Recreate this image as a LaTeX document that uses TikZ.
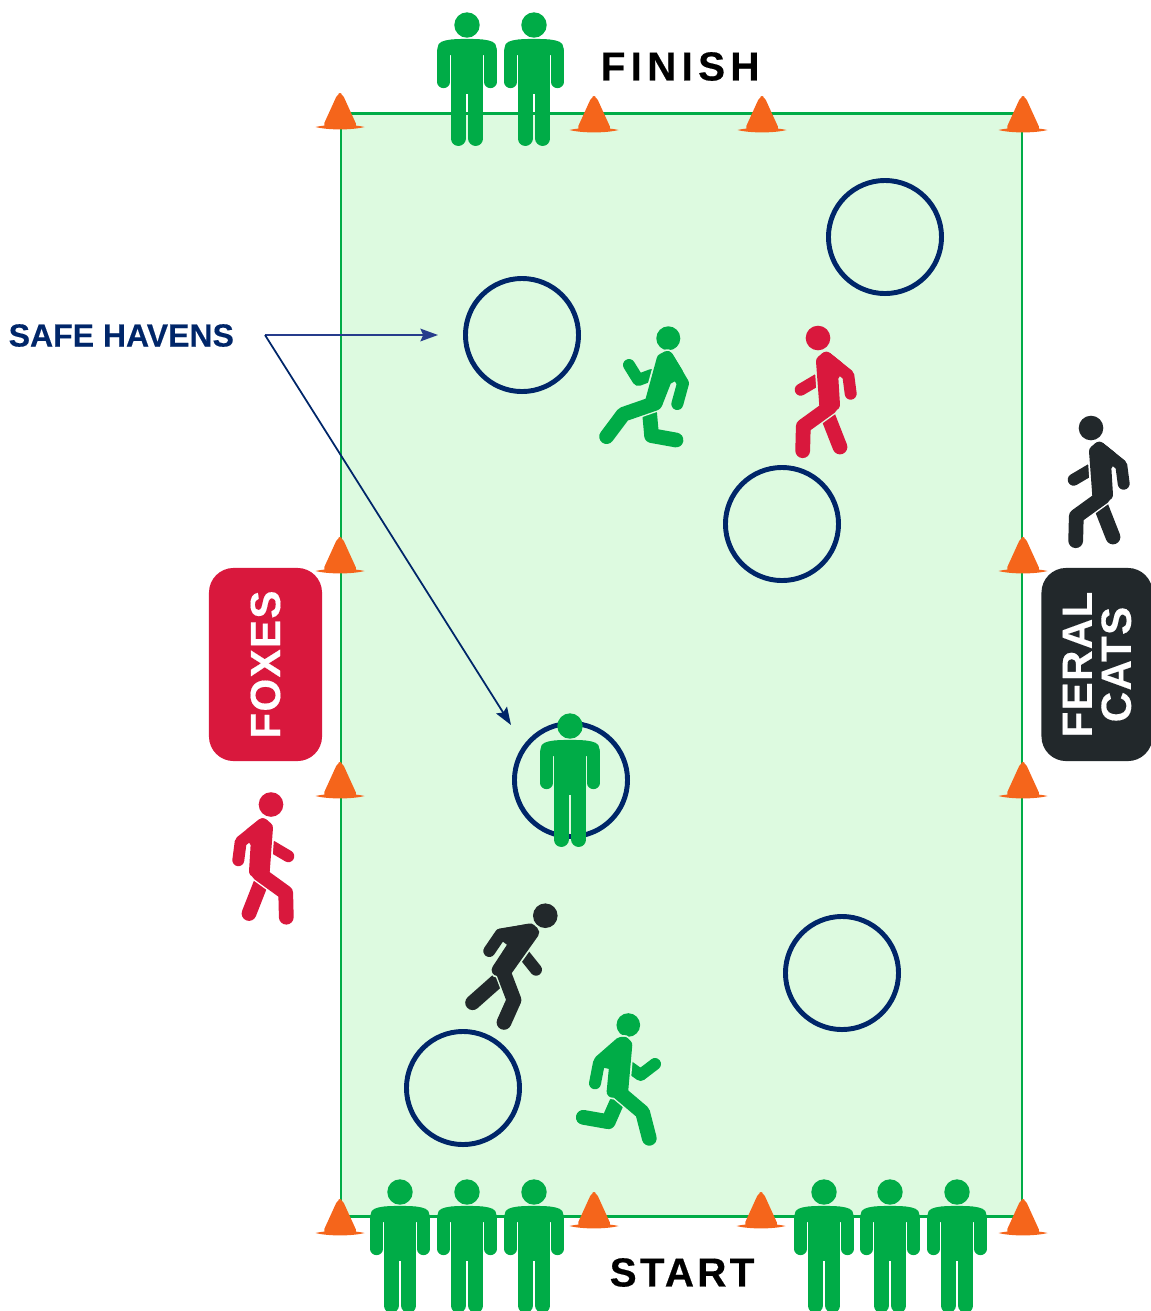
\documentclass[tikz,border=0pt]{standalone}
\usepackage{fontspec}
\usepackage{xcolor}
\usetikzlibrary{arrows.meta,positioning}
\setmainfont{Liberation Sans}
\definecolor{tagGreen}{RGB}{0,172,71}
\definecolor{tagLawn}{RGB}{221,250,224}
\definecolor{tagRed}{RGB}{217,24,61}
\definecolor{tagInk}{RGB}{34,40,43}
\definecolor{tagNavy}{RGB}{0,38,105}
\definecolor{tagBlue}{RGB}{38,60,140}
\definecolor{tagCone}{RGB}{245,101,27}
\tikzset{
  haven/.style={circle,draw=tagNavy,line width=1.4pt,minimum size=1.13cm,inner sep=0pt},
  sidetag/.style={rounded corners=7pt,minimum width=1.93cm,inner sep=0pt,rotate=90,text=white,align=center,
    font=\fontsize{12}{11}\selectfont\bfseries\addfontfeatures{LetterSpace=3,FakeBold=0.3}},
  gamelabel/.style={inner sep=0pt,font=\fontsize{11.5}{14}\selectfont\bfseries\addfontfeatures{FakeBold=0.4}},
  havenarrow/.style={draw=tagNavy,line width=0.5pt,-{Stealth[length=5pt,width=3.6pt,inset=0.8pt]}},
  armline/.style={line width=3.4pt,line cap=round,line join=round},
  legline/.style={line width=4.2pt,line cap=round,line join=round},
  torsoline/.style={line width=3.4pt,line join=round}
}
% colour, gap colour, back arm, back leg, torso, front leg, front arm
\newcommand{\limbfig}[7]{%
  \draw[armline,#1] #3;
  \draw[legline,#1] #4;
  \filldraw[#2,line width=4.4pt,line join=round] #5;
  \draw[#2,line width=5pt,line cap=round,line join=round] #6;
  \filldraw[torsoline,#1] #5;
  \draw[legline,#1] #6;
  \draw[armline,#1] #7;
}
\newcommand{\walkerfig}[2]{%
  \fill[#1] (0,0) circle[radius=0.123cm];
  \limbfig{#1}{#2}{(2,40.3)--(-17.3,51.7)}{(8,73.3)--(22,109)}%
    {(4,23.3)--(8.3,19.7)--(20.3,29.3)--(14.3,39)--(16,66.7)--(7.3,67.7)--cycle}%
    {(12,69)--(-14.7,88.3)--(-15.3,112.7)}{(8.3,19.7)--(30.3,37.3)--(32.7,55.7)}
}
\newcommand{\standingfig}{%
  \fill[tagGreen] (0,0) circle[radius=0.127cm];
  \fill[tagGreen] (-29.5,30) -- (-29.5,23) .. controls (-29.5,16.5) and (-23,15.5) .. (-16,14.5)
    .. controls (-8,13.7) and (8,13.7) .. (16,14.5) .. controls (23,15.5) and (29.5,16.5) .. (29.5,23)
    -- (29.5,30) -- cycle;
  \fill[tagGreen] (-16.4,26) rectangle (16.4,69);
  \draw[armline,line width=3.5pt,tagGreen] (-23.35,26) -- (-23.35,57);
  \draw[armline,line width=3.5pt,tagGreen] (23.35,26) -- (23.35,57);
  \draw[legline,line width=4.3pt,tagGreen] (-8.9,60) -- (-8.9,113.4);
  \draw[legline,line width=4.3pt,tagGreen] (8.9,60) -- (8.9,113.4);
}
\newcommand{\conemark}{%
  \fill[tagCone,rounded corners=1.2pt] (-17.5,34) -- (-2,0) -- (2,0) -- (17.5,34) -- cycle;
  \fill[tagCone] (-24.5,34) .. controls (-12,31) and (12,31) .. (24.5,34)
    .. controls (12,37.2) and (-12,37.2) .. cycle;
}
\begin{document}
\begin{tikzpicture}[x=0.01cm,y=-0.01cm]
  \useasboundingbox (0,0) rectangle (1150,1311);
  \draw[draw=tagGreen,fill=tagLawn,line width=0.85pt] (341,113) rectangle (1022,1216);

  \node[haven] (havenA) at (885,237) {};
  \node[haven] (havenB) at (522,335) {};
  \node[haven] (havenC) at (782,524) {};
  \node[haven] (havenD) at (571,780) {};
  \node[haven] (havenE) at (842,973) {};
  \node[haven] (havenF) at (463,1088) {};

  \node[anchor=west,inner sep=0pt,text=tagNavy,font=\fontsize{9.1}{12}\selectfont\bfseries\addfontfeatures{FakeBold=0.3}] (safelabel) at (8,335.5) {SAFE HAVENS};
  \coordinate (forkpoint) at (265,335);
  \coordinate (tipB) at (438,335);
  \coordinate (tipD) at (511,725);
  \draw[havenarrow,draw=tagBlue] (forkpoint) -- (tipB);
  \draw[havenarrow] (forkpoint) -- (tipD);

  \foreach \cx/\cy in {340/93,594/96,762/96,1023/96,340/537,1023/537,340/762,1023/762,340/1199,594/1192,761/1192,1023/1199}{
    \begin{scope}[shift={(\cx,\cy)}]\conemark\end{scope}
  }
  \foreach \sx/\sy in {467/25,534/25,570/726,400/1192,467/1192,534/1192,824/1192,890/1192,957/1192}{
    \begin{scope}[shift={(\sx,\sy)}]\standingfig\end{scope}
  }

  \begin{scope}[shift={(818,338)}]\walkerfig{tagRed}{tagLawn}\end{scope}
  \begin{scope}[shift={(1091,428)}]\walkerfig{tagInk}{white}\end{scope}
  \begin{scope}[shift={(271,804.5)},xscale=-1]\walkerfig{tagRed}{white}\end{scope}
  \begin{scope}[shift={(668.3,338.3)}]
    \fill[tagGreen] (0,0) circle[radius=0.12cm];
    \limbfig{tagGreen}{tagLawn}{(-16.7,36.7)--(-30,41.7)--(-39.3,26.7)}{(-19,71.7)--(-16.7,97.3)--(7.7,101.7)}%
      {(-5.7,21)--(-1,18.7)--(9,35)--(-2.3,41)--(-11.7,65)--(-17.3,63.3)--cycle}%
      {(-13.3,65)--(-45,76)--(-61.7,98.3)}{(-1,18.7)--(14.7,45)--(9,65.7)}
  \end{scope}
  \begin{scope}[shift={(545.3,915.7)}]
    \fill[tagInk] (0,0) circle[radius=0.123cm];
    \limbfig{tagInk}{tagLawn}{(-23.7,36)--(-9.3,54)}{(-45.3,62.7)--(-72.7,87)}%
      {(-15.3,13.7)--(-12,16.7)--(-38.7,54.3)--(-47.7,54.3)--(-30.3,27.7)--(-42,18.7)--cycle}%
      {(-42.7,54.3)--(-31.3,84.3)--(-41.3,106.7)}{(-17,14.3)--(-44.7,18.7)--(-56,35.3)}
  \end{scope}
  \begin{scope}[shift={(628.3,1025)}]
    \fill[tagGreen] (0,0) circle[radius=0.118cm];
    \limbfig{tagGreen}{tagLawn}{(-1.7,40)--(12.3,50)--(26.7,39)}{(-8.3,70)--(-20,96.7)--(-45,92.3)}%
      {(-2,20)--(-6,65)--(-15.7,66.7)--(-13,39)--(-28.3,36)--(-7.7,18)--(-4.3,17.7)--cycle}%
      {(-10,66.7)--(14.3,87.3)--(21,113.3)}{(-8.3,20)--(-29.3,37.7)--(-33.3,58.3)}
  \end{scope}

  \node[sidetag,fill=tagRed,minimum height=1.13cm] (foxes) at (265.5,664.5) {FOXES};
  \node[sidetag,fill=tagInk,minimum height=1.11cm] (cats) at (1097,664.5) {FERAL\\[0.1pt]CATS};
  \node[gamelabel,anchor=west] (finish) at (600,66.5) {\addfontfeatures{LetterSpace=13}FINISH};
  \node[gamelabel,anchor=west] (start) at (609,1272.5) {\addfontfeatures{LetterSpace=8}START};
\end{tikzpicture}
\end{document}
